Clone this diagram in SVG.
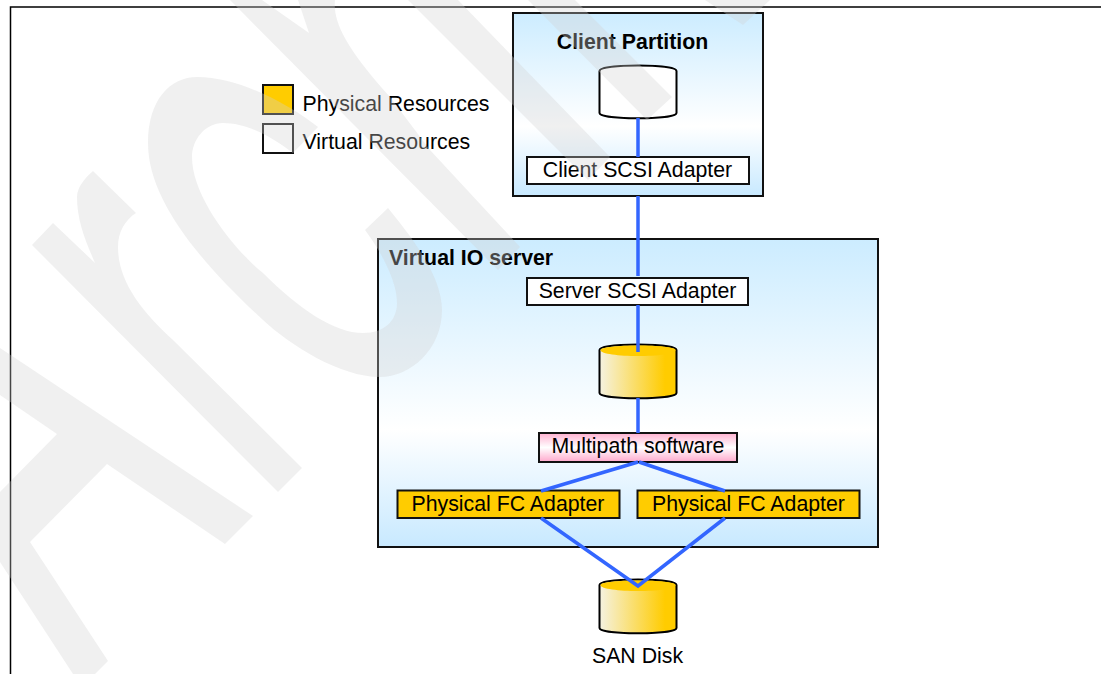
<svg xmlns="http://www.w3.org/2000/svg" width="1101" height="674" viewBox="0 0 1101 674">
  <style>
    text { font-family: "Liberation Sans", Arial, sans-serif; font-size: 21.3px; fill: #000; }
    .title { font-weight: bold; }
    .mid { text-anchor: middle; }
    .box { stroke: #111; stroke-width: 2; }
    .frame { stroke: #000; stroke-width: 1.5; fill: none; }
    .cyl { stroke: #000; stroke-width: 2; }
    .link { stroke: #3366ff; stroke-width: 3.5; fill: none; }
    .wm { fill: #d2d2d2; fill-opacity: 0.333; }
  </style>
  <defs>
    <linearGradient id="sky" x1="0" y1="0" x2="0" y2="1">
      <stop offset="0" stop-color="#ccecff"/>
      <stop offset="0.62" stop-color="#ffffff"/>
      <stop offset="1" stop-color="#c8e9ff"/>
    </linearGradient>
    <linearGradient id="pink" x1="0" y1="0" x2="0" y2="1">
      <stop offset="0" stop-color="#ffb0d0"/>
      <stop offset="0.5" stop-color="#ffffff"/>
      <stop offset="1" stop-color="#ffa8cc"/>
    </linearGradient>
    <linearGradient id="gold" x1="0" y1="0" x2="1" y2="0">
      <stop offset="0" stop-color="#f5f2e2"/>
      <stop offset="0.85" stop-color="#ffcc00"/>
    </linearGradient>
  </defs>

  <rect width="1101" height="674" fill="#fff"/>
  <path class="frame" d="M10.5,674 V7 H1101"/>

  <g id="legend">
    <rect class="box" x="263" y="85" width="30" height="29" fill="#ffcc00"/>
    <text x="302.5" y="111">Physical Resources</text>
    <rect class="box" x="263" y="124" width="30" height="29" fill="#fff"/>
    <text x="302.5" y="149">Virtual Resources</text>
  </g>

  <g id="client-partition">
    <rect class="box" x="513" y="13" width="250" height="183" fill="url(#sky)"/>
    <text class="title mid" x="632.5" y="48.5">Client Partition</text>
  </g>
  <g id="virtual-io-server">
    <rect class="box" x="378" y="239" width="500" height="308" fill="url(#sky)"/>
    <text class="title" x="389" y="265">Virtual IO server</text>
  </g>

  <g id="client-disk">
    <path class="cyl" fill="#fff" d="M599.5,71 C599.5,63.5 676.5,63.5 676.5,71 V113 C676.5,120 599.5,120 599.5,113 Z"/>
  </g>
  <g id="client-scsi-adapter">
    <rect class="box" x="527" y="157" width="222" height="27" fill="#fff"/>
    <text class="mid" x="637.5" y="177">Client SCSI Adapter</text>
  </g>
  <g id="server-scsi-adapter">
    <rect class="box" x="527" y="278" width="221" height="27" fill="#fff"/>
    <text class="mid" x="637.5" y="298">Server SCSI Adapter</text>
  </g>
  <g id="server-disk">
    <path class="cyl" fill="url(#gold)" d="M599.5,350 C599.5,342.5 676.5,342.5 676.5,350 V393 C676.5,400 599.5,400 599.5,393 Z"/>
    <path fill="#ffcc00" d="M600.5,350 C600.5,344 675.5,344 675.5,350 C675.5,358 600.5,358 600.5,350 Z"/>
  </g>
  <g id="multipath-software">
    <rect class="box" x="539" y="433" width="198" height="29" fill="url(#pink)"/>
    <text class="mid" x="638" y="453">Multipath software</text>
  </g>
  <g id="fc-adapter-1">
    <rect class="box" x="397.5" y="490.5" width="222" height="27.5" fill="#ffcc00"/>
    <text class="mid" x="508" y="510.5">Physical FC Adapter</text>
  </g>
  <g id="fc-adapter-2">
    <rect class="box" x="637.5" y="490.5" width="222" height="27.5" fill="#ffcc00"/>
    <text class="mid" x="748.5" y="510.5">Physical FC Adapter</text>
  </g>
  <g id="san-disk">
    <path class="cyl" fill="url(#gold)" d="M599.5,585 C599.5,577.5 676.5,577.5 676.5,585 V628 C676.5,635 599.5,635 599.5,628 Z"/>
    <path fill="#ffcc00" d="M600.5,585 C600.5,579 675.5,579 675.5,585 C675.5,593 600.5,593 600.5,585 Z"/>
    <text class="mid" x="637.5" y="663">SAN Disk</text>
  </g>

  <g id="connectors">
    <path class="link" d="M638,118 V157"/>
    <path class="link" d="M638,196 V276"/>
    <path class="link" d="M638,305 V352"/>
    <path class="link" d="M638,398 V433"/>
    <path class="link" d="M638,462 L541,491"/>
    <path class="link" d="M639,462 L725,491"/>
    <path class="link" d="M541,518 L638,586 L725,518"/>
  </g>

  <g id="watermark">
    <path class="wm" d="M0,348 L253,516 L225,544 L107,464 L30,542 L108,661 L95,674 L73,674 L0,562 L0,492 L57,434 L0,395 Z"/>
    <path class="wm" d="M93,171 L136,213 C125,220 118,232 118,247 C118,280 140,310 173,340 L302,468 L278,492 L32,245 L53,223 L95,263 C85,240 77,220 77,197 C77,187 85,178 93,171 Z"/>
    <path class="wm" d="M388,208 C410,235 442,275 442,310 C442,350 410,377 380,377 C340,377 290,345 263,320 C200,262 148,200 148,143 C148,100 170,77 197,77 C240,77 290,105 318,127 L293,153 C270,135 245,123 223,123 C205,123 192,140 192,157 C192,200 240,255 263,273 C300,310 335,333 363,333 C385,333 397,320 397,303 C397,280 380,250 365,230 Z"/>
    <path class="wm" d="M230,0 L262,0 L309,33 L298,0 L335,0 C333,20 343,45 390,97 L430,150 L520,247 L498,270 Z"/>
    <path class="wm" d="M408,0 L458,0 L610,157 L588,180 Z"/>
    <path class="wm" d="M528,0 L575,0 L672,97 L647,120 Z"/>
    <path class="wm" d="M705,0 L770,0 L743,25 Z"/>
  </g>
</svg>
